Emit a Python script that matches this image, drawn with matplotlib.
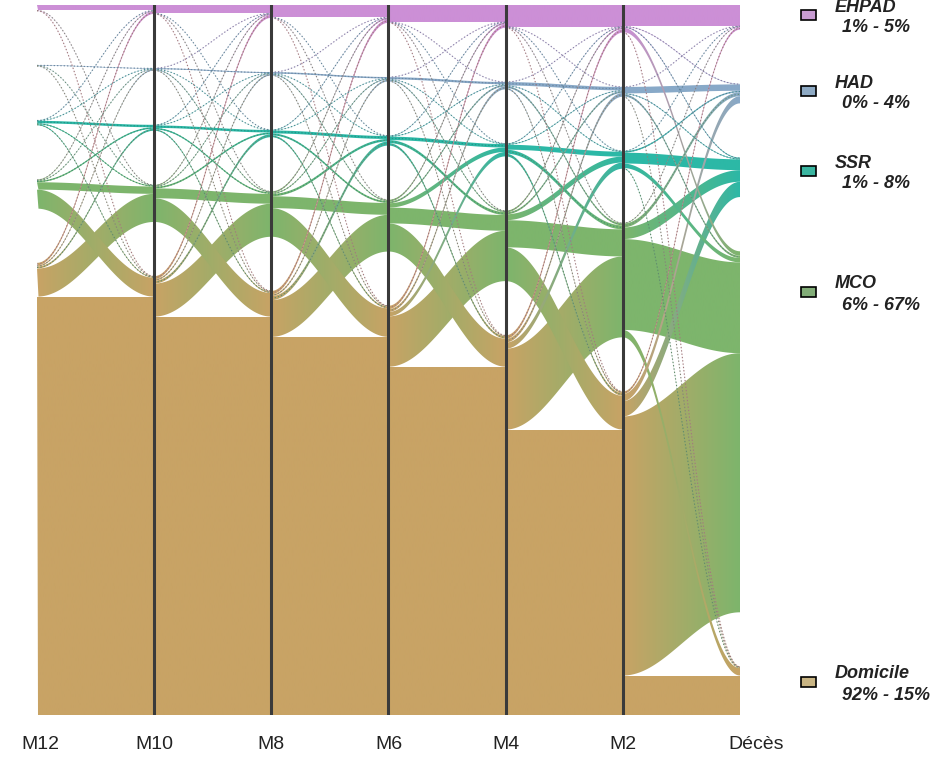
import numpy as np
import matplotlib.pyplot as plt
import matplotlib.transforms as mtransforms
from matplotlib.patches import PathPatch, Rectangle
from matplotlib.path import Path
from matplotlib.colors import to_rgba

states = ['EHPAD', 'HAD', 'SSR', 'MCO', 'Domicile']
times = ['M12', 'M10', 'M8', 'M6', 'M4', 'M2', 'Décès']
ranges = ['1% - 5%', '0% - 4%', '1% - 8%', '6% - 67%', '92% - 15%']
colors = ['#cc8fd6', '#88a9c8', '#2cb8a6', '#7db56c', '#c8a365']
box_colors = ['#c89bd2', '#8eaac4', '#3ab5a0', '#82ad78', '#c9b584']

# share of patients (%) going from state (rows) to state (columns)
# order: EHPAD, HAD, SSR, MCO, Domicile
flows_m12_m10 = [[1.1, 0.0, 0.0, 0.05, 0.05],
                 [0.0, 0.1, 0.0, 0.05, 0.05],
                 [0.05, 0.05, 0.5, 0.2, 0.2],
                 [0.15, 0.1, 0.3, 1.5, 3.85],
                 [0.5, 0.25, 0.4, 5.7, 84.85]]
flows_m10_m8 = [[1.7, 0.0, 0.02, 0.05, 0.03],
                [0.02, 0.2, 0.03, 0.15, 0.1],
                [0.08, 0.05, 0.5, 0.3, 0.27],
                [0.2, 0.15, 0.35, 2.0, 4.8],
                [0.6, 0.3, 0.6, 6.7, 80.8]]
flows_m8_m6 = [[2.5, 0.0, 0.02, 0.05, 0.03],
               [0.02, 0.3, 0.05, 0.2, 0.13],
               [0.1, 0.05, 0.6, 0.4, 0.35],
               [0.3, 0.2, 0.5, 2.4, 5.8],
               [0.68, 0.35, 0.83, 7.45, 76.69]]
flows_m6_m4 = [[3.45, 0.02, 0.03, 0.07, 0.03],
               [0.03, 0.45, 0.07, 0.22, 0.13],
               [0.1, 0.1, 0.7, 0.6, 0.5],
               [0.35, 0.35, 0.9, 3.2, 5.7],
               [0.67, 0.58, 0.9, 10.21, 70.64]]
flows_m4_m2 = [[4.4, 0.02, 0.05, 0.1, 0.03],
               [0.03, 0.7, 0.1, 0.4, 0.27],
               [0.12, 0.12, 1.0, 0.8, 0.56],
               [0.35, 0.4, 1.2, 5.5, 6.85],
               [0.7, 0.76, 1.25, 16.4, 57.89]]
flows_m2_deces = [[4.3, 0.1, 0.2, 0.9, 0.1],
                  [0.02, 1.3, 0.15, 0.45, 0.08],
                  [0.05, 0.3, 2.2, 0.9, 0.15],
                  [0.13, 0.8, 2.35, 18.42, 1.5],
                  [0.5, 1.45, 3.1, 52.55, 8.0]]

steps = [flows_m12_m10, flows_m10_m8, flows_m8_m6,
         flows_m6_m4, flows_m4_m2, flows_m2_deces]

gap = 11.0  # empty space between two states, same unit as the flows

mats = [np.array(m, dtype=float) for m in steps]
sizes = [m.sum(axis=1) for m in mats] + [mats[-1].sum(axis=0)]
total = max(s.sum() for s in sizes) + gap * (len(states) - 1)


def stratum_tops(size):
    tops = []
    y = total
    for s in size:
        tops.append(y)
        y -= s + gap
    return tops


def sigmoid(t):
    return (1 - np.cos(np.pi * t)) / 2


def mix(c0, c1, t):
    a = np.array(to_rgba(c0))
    b = np.array(to_rgba(c1))
    return a + (b - a) * t


fig = plt.figure(figsize=(9.45, 7.79), dpi=100)
ax = fig.add_axes([37 / 945, 1 - 715 / 779, (740 - 37) / 945, (715 - 5) / 779])

t = np.linspace(0, 1, 80)
ribbons = []
for k, m in enumerate(mats):
    left = stratum_tops(sizes[k])
    right = stratum_tops(sizes[k + 1])
    dep = {}
    for o in range(len(states)):
        y = left[o]
        for d in range(len(states)):
            dep[o, d] = (y, y - m[o, d])
            y -= m[o, d]
    arr = {}
    for d in range(len(states)):
        y = right[d]
        for o in range(len(states)):
            arr[o, d] = (y, y - m[o, d])
            y -= m[o, d]
    for o in range(len(states)):
        for d in range(len(states)):
            v = m[o, d]
            if v <= 0:
                continue
            ribbons.append((v, k, o, d, dep[o, d], arr[o, d]))

# big flows first, thin ones drawn over them
ribbons.sort(key=lambda r: -r[0])
grad = np.linspace(0, 1, 64)
for v, k, o, d, (y0t, y0b), (y1t, y1b) in ribbons:
    xs = k + t
    top = y0t + (y1t - y0t) * sigmoid(t)
    bot = y0b + (y1b - y0b) * sigmoid(t)
    verts = np.vstack([np.column_stack([xs, top]),
                       np.column_stack([xs[::-1], bot[::-1]])])
    patch = PathPatch(Path(verts, closed=True), transform=ax.transData)
    img = np.array([[mix(colors[o], colors[d], g) for g in grad]])
    im = ax.imshow(img, extent=(k, k + 1, 0, total), aspect='auto',
                   interpolation='bilinear', zorder=2)
    im.set_clip_path(patch)
    if v < 0.9:
        mid = (top + bot) / 2
        c = mix(colors[o], colors[d], 0.5) * np.array([0.8, 0.8, 0.8, 1])
        ax.plot(xs, mid, color=c, lw=0.8, ls=(0, (1.2, 1.8)), zorder=3)

for x in range(1, len(times) - 1):
    ax.axvline(x, color='#3a3a3a', lw=2.2, zorder=5)

ax.set_xlim(0, len(times) - 1)
ax.set_ylim(0, total)
ax.set_xticks(range(len(times)))
ax.set_xticklabels(times, fontsize=14, color='#222222', family='Liberation Sans')
ax.tick_params(axis='x', length=0, pad=15)
ax.set_yticks([])
for s in ax.spines.values():
    s.set_visible(False)

# the outer labels sit a little outside the flows
shifts = {0: 3, len(times) - 1: 16}
for i, lab in enumerate(ax.get_xticklabels()):
    if i in shifts:
        off = mtransforms.ScaledTranslation(shifts[i] / 100, 0, fig.dpi_scale_trans)
        lab.set_transform(lab.get_transform() + off)

# legend on the right
box_y = [15, 91, 171, 292, 682]
for i, name in enumerate(states):
    yc = box_y[i]
    fig.add_artist(Rectangle((801 / 945, 1 - (yc + 5) / 779), 15 / 945, 10 / 779,
                             facecolor=box_colors[i], edgecolor='black', lw=1.2,
                             transform=fig.transFigure))
    fig.text(835 / 945, 1 - (yc - 8) / 779, name, fontsize=13, style='italic',
             weight='bold', color='#222222', va='center', family='Liberation Sans')
    fig.text(842 / 945, 1 - (yc + 13) / 779, ranges[i], fontsize=13, style='italic',
             weight='bold', color='#222222', va='center', family='Liberation Sans')

fig.savefig('out.png', dpi=100, facecolor='white')
